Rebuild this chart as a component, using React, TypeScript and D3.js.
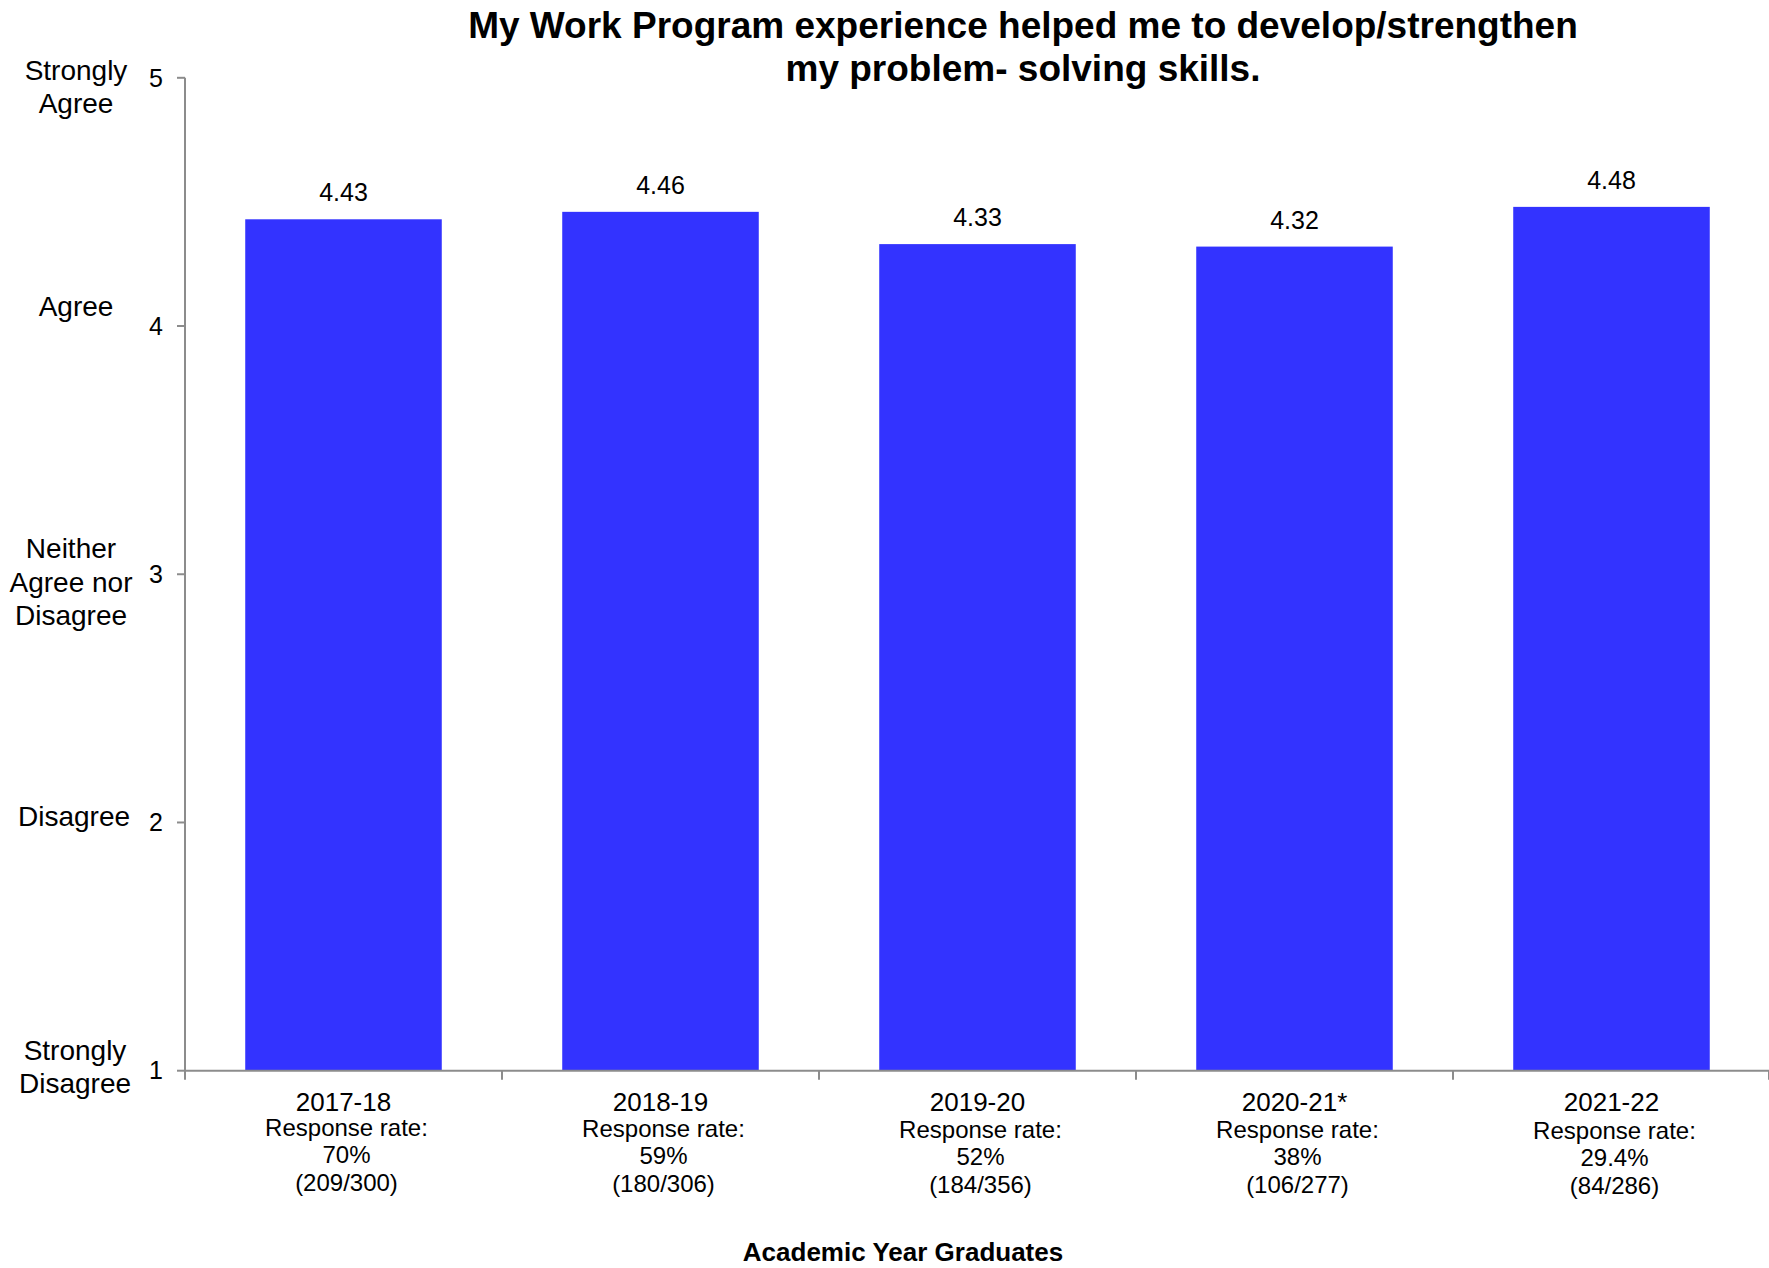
import React from "react";
import * as d3 from "d3";

const categories = ["2017-18", "2018-19", "2019-20", "2020-21*", "2021-22"];
const values = [4.43, 4.46, 4.33, 4.32, 4.48];
const responseRates = ["70%", "59%", "52%", "38%", "29.4%"];
const responseCounts = ["(209/300)", "(180/306)", "(184/356)", "(106/277)", "(84/286)"];
const yTicks = [1, 2, 3, 4, 5];
const yTickLabels = [
  ["Strongly", "Disagree"],
  ["Disagree"],
  ["Neither", "Agree nor", "Disagree"],
  ["Agree"],
  ["Strongly", "Agree"],
];
const titleLines = [
  "My Work Program experience helped me to develop/strengthen",
  "my problem- solving skills.",
];
const xTitle = "Academic Year Graduates";

// layout
const W = 1769;
const H = 1268;
const left = 185;
const right = 1770;
const top = 77.8;
const bottom = 1070.7;
const labelFirstBaselineOffset = [-11, 4, -16, -10, 2];
const labelX = [75, 74, 71, 76, 76];
const FONT = "Arial, 'Liberation Sans', Helvetica, sans-serif";

export default function App() {
  const x = d3.scaleBand<string>().domain(categories).range([left, right]).paddingInner(0.38).paddingOuter(0.19);
  const xb = d3.scaleBand<string>().domain(categories).range([left, right]).padding(0);
  const y = d3.scaleLinear().domain([1, 5]).range([bottom, top]);
  const axisColor = "#8c8c8c";

  return (
    <svg width={W} height={H} style={{ position: "absolute", left: 0, top: 0, display: "block" }} fontFamily={FONT}>
      <rect width={W} height={H} fill="#fff" />
      {/* title */}
      {titleLines.map((t, i) => (
        <text key={i} x={1023} y={38 + i * 43} textAnchor="middle" fontWeight="bold" fontSize={37} fill="#000">
          {t}
        </text>
      ))}
      {/* bars */}
      {categories.map((c, i) => (
        <rect key={c} x={x(c)} y={y(values[i])} width={x.bandwidth()} height={y(1) - y(values[i])} fill="#3333FF" />
      ))}
      {/* value labels */}
      {categories.map((c, i) => (
        <text key={c} x={(x(c) as number) + x.bandwidth() / 2} y={y(values[i]) - 18} textAnchor="middle" fontSize={25} fill="#000">
          {values[i].toFixed(2)}
        </text>
      ))}
      {/* y axis */}
      <line x1={left} x2={left} y1={y(5)} y2={y(1)} stroke={axisColor} strokeWidth={2} />
      {yTicks.map((t) => (
        <g key={t}>
          <line x1={left - 8} x2={left} y1={y(t)} y2={y(t)} stroke={axisColor} strokeWidth={2} />
          <text x={163} y={y(t)} dy="0.35em" textAnchor="end" fontSize={25} fill="#000">
            {t}
          </text>
        </g>
      ))}
      {yTicks.map((t, i) => (
        <text key={t} x={labelX[i]} y={y(t) + labelFirstBaselineOffset[i]} textAnchor="middle" fontSize={28} fill="#000">
          {yTickLabels[i].map((s, j) => (
            <tspan key={j} x={labelX[i]} dy={j === 0 ? 0 : 33.5}>
              {s}
            </tspan>
          ))}
        </text>
      ))}
      {/* x axis */}
      <line x1={left} x2={right} y1={y(1)} y2={y(1)} stroke={axisColor} strokeWidth={2} />
      {categories.map((c) => (
        <line key={c} x1={xb(c)} x2={xb(c)} y1={y(1)} y2={y(1) + 9} stroke={axisColor} strokeWidth={2} />
      ))}
      <line x1={right - 1} x2={right - 1} y1={y(1)} y2={y(1) + 9} stroke={axisColor} strokeWidth={2} />
      {categories.map((c, i) => {
        const cx = (xb(c) as number) + xb.bandwidth() / 2;
        return (
          <g key={c}>
            <text x={cx} y={1111} textAnchor="middle" fontSize={26} fill="#000">{c}</text>
            <text x={cx + 3} y={1136 + i * 0.8} textAnchor="middle" fontSize={24} fill="#000">Response rate:</text>
            <text x={cx + 3} y={1163 + i * 0.8} textAnchor="middle" fontSize={24} fill="#000">{responseRates[i]}</text>
            <text x={cx + 3} y={1191 + i * 0.8} textAnchor="middle" fontSize={24} fill="#000">{responseCounts[i]}</text>
          </g>
        );
      })}
      <text x={903} y={1261} textAnchor="middle" fontWeight="bold" fontSize={26} fill="#000">{xTitle}</text>
    </svg>
  );
}
